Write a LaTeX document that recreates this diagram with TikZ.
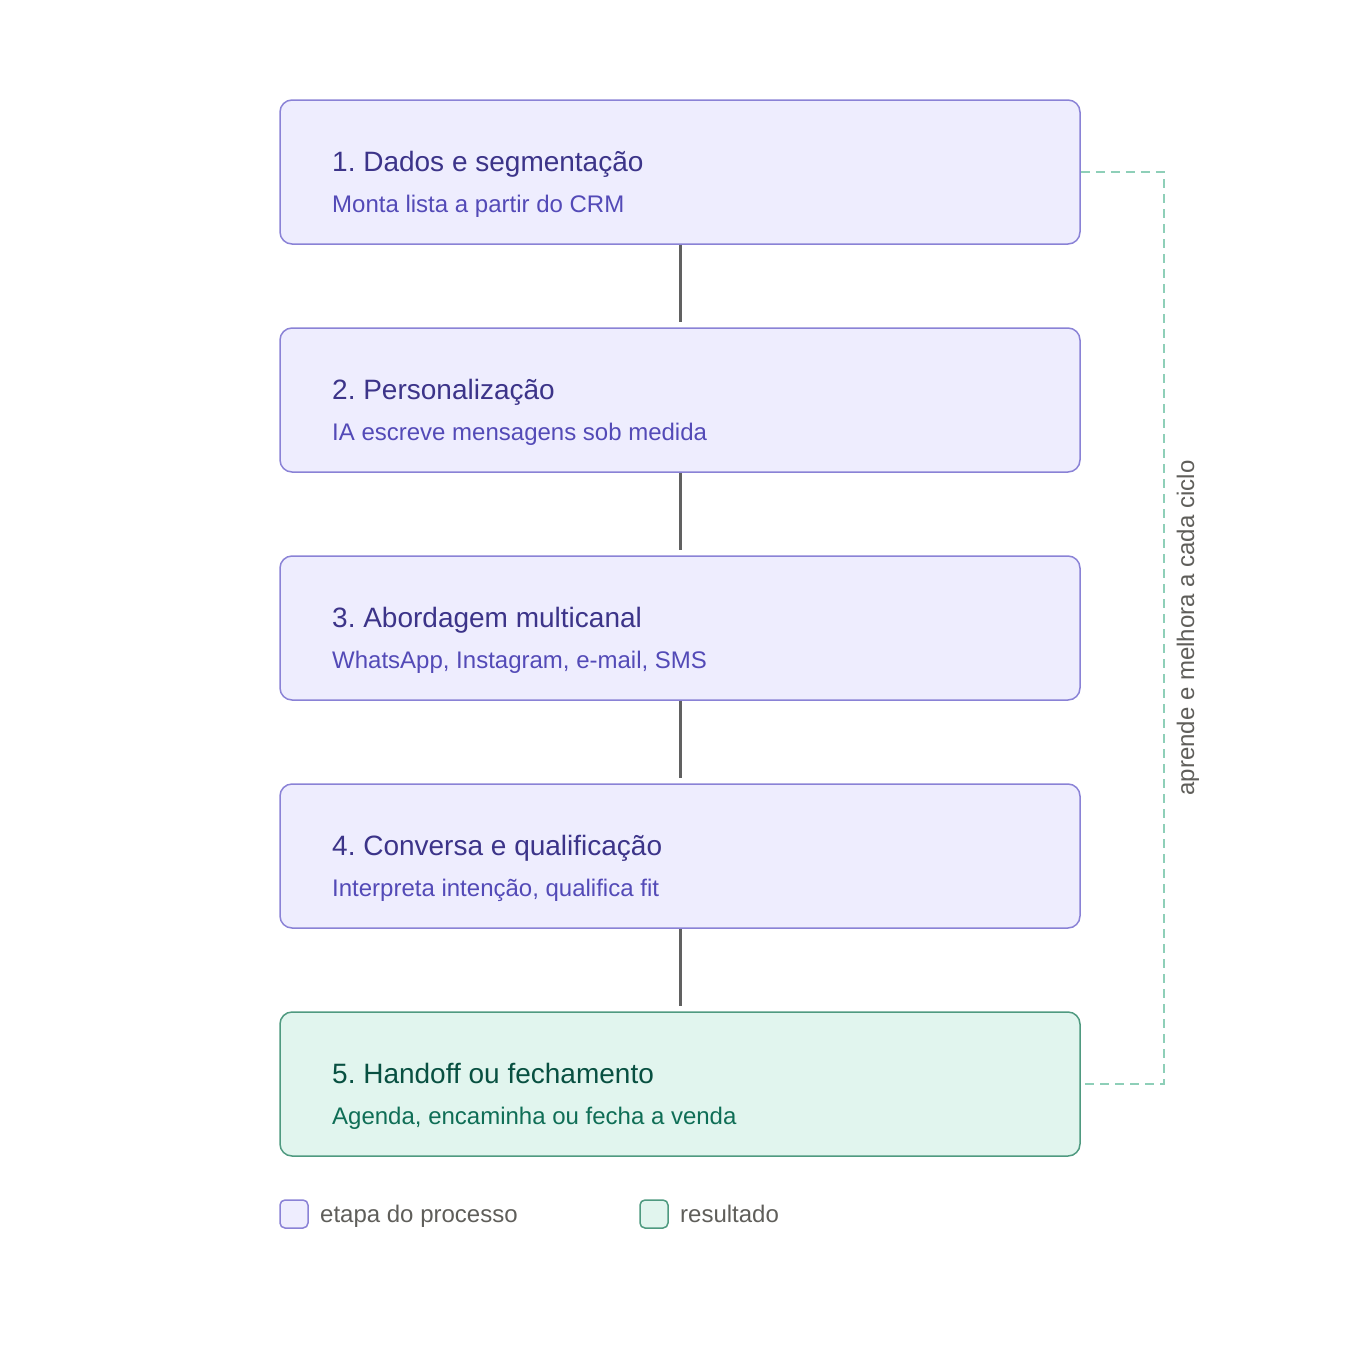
\documentclass[tikz,border=0pt]{standalone}
\usepackage{fontspec}
\setmainfont{Liberation Sans}
\usetikzlibrary{positioning}
\frenchspacing

\definecolor{stepfill}{HTML}{EEEDFE}
\definecolor{stepdraw}{HTML}{8A82D6}
\definecolor{steptitle}{HTML}{3C3489}
\definecolor{stepsub}{HTML}{534AB7}
\definecolor{endfill}{HTML}{E1F5EE}
\definecolor{enddraw}{HTML}{4F9A80}
\definecolor{endtitle}{HTML}{085041}
\definecolor{endsub}{HTML}{0F6E56}
\definecolor{loopcol}{HTML}{8ECFB8}
\definecolor{greytext}{HTML}{5F5E5A}

\begin{document}
\begin{tikzpicture}[x=1pt, y=-1pt]

\tikzstyle{stepbox}=[rectangle, rounded corners=12pt, draw=stepdraw, fill=stepfill, line width=1.5pt, minimum width=800pt, minimum height=144pt]
\tikzstyle{endbox}=[stepbox, draw=enddraw, fill=endfill]
\tikzstyle{titletext}=[inner sep=0pt, anchor=base west, text=steptitle, font=\fontsize{28}{34}\selectfont]
\tikzstyle{subtext}=[inner sep=0pt, anchor=base west, text=stepsub, font=\fontsize{24}{29}\selectfont]
\tikzstyle{link}=[line width=3pt, draw=black!62, shorten >=5pt]
\tikzstyle{loopline}=[line width=2pt, draw=loopcol, dash pattern=on 9pt off 6pt]
\tikzstyle{greylabel}=[inner sep=0pt, text=greytext, font=\fontsize{24}{29}\selectfont]
\tikzstyle{keybox}=[rectangle, rounded corners=5pt, line width=1.5pt, minimum size=28pt, inner sep=0pt]

\useasboundingbox (0,0) rectangle (1360,1360);

\node (s1) [stepbox] at (680,172) {};
\node (t1) [titletext] at (332,171) {1. Dados e segmentação};
\node (d1) [subtext] at (332,212) {Monta lista a partir do CRM};

\node (s2) [stepbox] at (680,400) {};
\node (t2) [titletext] at (332,399) {2. Personalização};
\node (d2) [subtext] at (332,440) {IA escreve mensagens sob medida};

\node (s3) [stepbox] at (680,628) {};
\node (t3) [titletext] at (332,627) {3. Abordagem multicanal};
\node (d3) [subtext] at (332,668) {WhatsApp, Instagram, e-mail, SMS};

\node (s4) [stepbox] at (680,856) {};
\node (t4) [titletext] at (332,855) {4. Conversa e qualificação};
\node (d4) [subtext] at (332,896) {Interpreta intenção, qualifica fit};

\node (s5) [endbox] at (680,1084) {};
\node (t5) [titletext, text=endtitle] at (332,1083) {5. Handoff ou fechamento};
\node (d5) [subtext, text=endsub] at (332,1124) {Agenda, encaminha ou fecha a venda};

\draw [link] (s1) -- (s2);
\draw [link] (s2) -- (s3);
\draw [link] (s3) -- (s4);
\draw [link] (s4) -- (s5);

\draw [loopline] (s1.east) -- ++(83,0) |- (s5.east);
\node (cycle) [greylabel, rotate=90] at (1188,628) {aprende e melhora a cada ciclo};

\node (k1) [keybox, draw=stepdraw, fill=stepfill] at (294,1214) {};
\node (k1t) [greylabel, anchor=base west] at (320,1222) {etapa do processo};
\node (k2) [keybox, draw=enddraw, fill=endfill] at (654,1214) {};
\node (k2t) [greylabel, anchor=base west] at (680,1222) {resultado};

\end{tikzpicture}
\end{document}
